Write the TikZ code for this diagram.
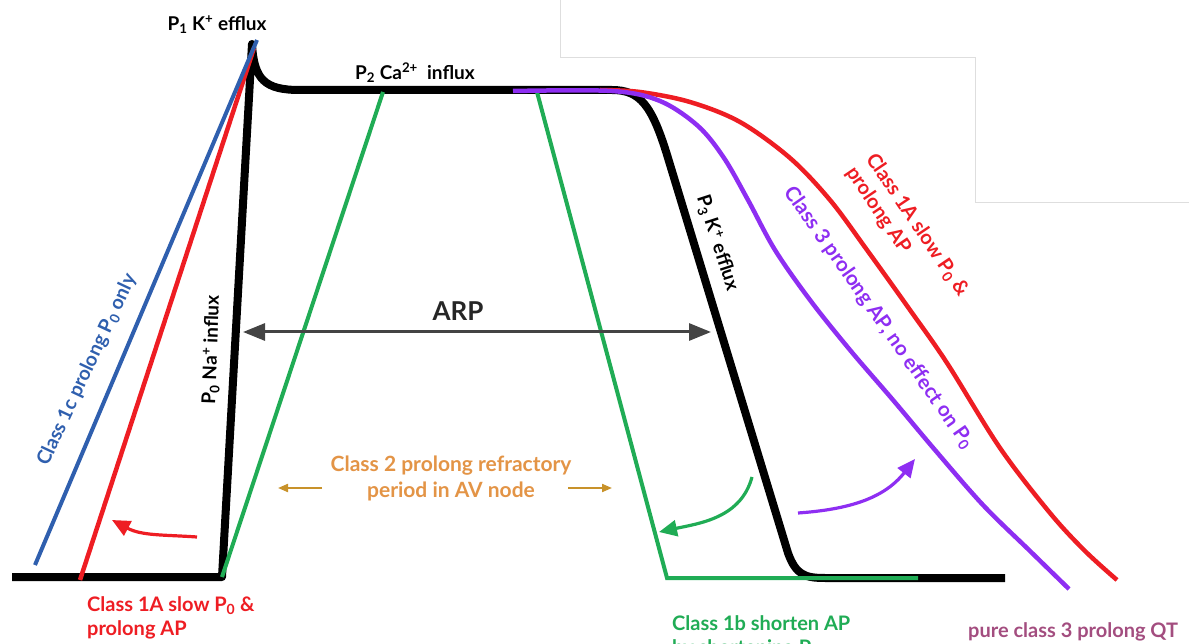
\documentclass[tikz,border=0pt]{standalone}
\usepackage{fontspec}
\setmainfont{Lato}
\usetikzlibrary{arrows.meta}
\definecolor{cred}{HTML}{EE1D23}
\definecolor{cblue}{HTML}{2F5FAE}
\definecolor{cgreen}{HTML}{20AC55}
\definecolor{cpurple}{HTML}{8E2EF2}
\definecolor{cplum}{HTML}{A34D7F}
\definecolor{corange}{HTML}{E39446}
\definecolor{cgold}{HTML}{C8922A}
\definecolor{carp}{HTML}{444444}
\newcommand{\lo}[1]{\textsubscript{#1}}
\newcommand{\hi}[1]{\textsuperscript{#1}}
\begin{document}
\begin{tikzpicture}[x=1pt,y=-1pt,
  blk/.style={font=\fontsize{19}{21}\selectfont\bfseries, text=black, inner sep=0pt},
  clab/.style={font=\fontsize{20}{24}\selectfont\bfseries, inner sep=0pt, align=left},
  apline/.style={line width=8pt, black, line join=round},
  drug/.style={line width=4.5pt},
  curarrow/.style={line width=3.2pt, -{Triangle[length=18pt,width=16pt]}},
]
\useasboundingbox (0,0) rectangle (1189,644);
% faint frame lines from the screenshot
\draw[black!13, line width=1pt] (560,0) -- (560,58) -- (975,58) -- (975,203) -- (1189,203);

% main action potential
\draw[apline] (12,577) -- (222,577) -- (252,44)
  .. controls (254,80) and (265,90) .. (300,90) -- (612,90)
  .. controls (640,90) and (652,105) .. (668,158) -- (788,553)
  .. controls (796,575) and (805,578) .. (825,578) -- (1005,578);

% class 1b (green)
\draw[cgreen, line width=4pt, line join=miter] (222,577) -- (383,92);
\draw[cgreen, line width=4pt, line join=miter] (537,92) -- (667,578) -- (918,578);

% class 1A right (red)
\draw[cred, drug] plot[smooth, tension=0.55] coordinates {(600,90) (640,92) (690,102) (740,122) (790,158) (830,200) (867,250) (910,310) (947,363) (1000,448) (1050,513) (1085,551) (1117,580)};
% class 3 (purple)
\draw[cpurple, drug] plot[smooth, tension=0.55] coordinates {(513,91) (612,91) (660,101) (698,126) (724,158) (748,200) (775,250) (810,300) (850,350) (893,400) (935,450) (983,505) (1030,551) (1069,589)};

% class 1A left (red) and 1c (blue)
\draw[cred, drug] (80,580) -- (254,48);
\draw[cblue, line width=4pt] (35,565) -- (257,40);

% ARP
\coordinate (arpL) at (243,332);
\coordinate (arpR) at (711,332);
\draw[carp, line width=3pt, {Triangle[length=22pt,width=17pt]}-{Triangle[length=22pt,width=17pt]}] (arpL) -- (arpR);
\node[font=\fontsize{26}{28}\selectfont\bfseries, text=black!85] (arp) at (458,311) {ARP};

% curved arrows
\coordinate (ra1) at (197,537); \coordinate (ra2) at (112,520);
\draw[cred, curarrow] (ra1) to[out=176,in=-28] (ra2);
\coordinate (ga1) at (752,477); \coordinate (ga2) at (659,532);
\draw[cgreen, curarrow] (ga1) to[out=-105,in=12] (ga2);
\coordinate (pa1) at (798,513); \coordinate (pa2) at (915,459);
\draw[cpurple, curarrow] (pa1) to[out=4,in=-128] (pa2);

% class 2
\node[clab, text=corange, align=center, font=\fontsize{21}{26}\selectfont\bfseries] (c2) at (451,478) {Class 2 prolong refractory\\period in AV node};
\coordinate (oaL1) at (322,488); \coordinate (oaL2) at (278,488);
\coordinate (oaR1) at (568,488); \coordinate (oaR2) at (612,488);
\draw[cgold, line width=2pt, -{Triangle[length=10pt,width=8pt]}] (oaL1) -- (oaL2);
\draw[cgold, line width=2pt, -{Triangle[length=10pt,width=8pt]}] (oaR1) -- (oaR2);

% black phase labels
\node[blk] (p1) at (217,25) {P\lo{1} K\hi{+} efflux};
\node[blk] (p2) at (415,73) {P\lo{2} Ca\hi{2+}\ \ influx};
\node[blk, rotate=-72] (p3) at (717,243) {P\lo{3} K\hi{+} efflux};
\node[blk, rotate=88] (p0) at (212,350) {P\lo{0} Na\hi{+} influx};

% coloured drug labels
\node[clab, text=cblue, rotate=65, font=\fontsize{19.5}{24}\selectfont\bfseries] (c1c) at (87,370) {Class 1c prolong P\lo{0} only};
\node[clab, text=cred, rotate=-56] (c1aR) at (907,232) {Class 1A slow P\lo{0} \&\\prolong AP};
\node[clab, text=cpurple, rotate=-55, font=\fontsize{20.5}{24}\selectfont\bfseries] (c3) at (879,318) {Class 3 prolong AP, no effect on P\lo{0}};
\node[clab, text=cred, anchor=north west] (c1aB) at (87,596) {Class 1A slow P\lo{0} \&\\prolong AP};
\node[clab, text=cgreen, anchor=north west] (c1b) at (672,615) {Class 1b shorten AP\\by shortening P\lo{3}};
\node[clab, text=cplum, anchor=base west] (pc3) at (968,637) {pure class 3 prolong QT};
\end{tikzpicture}
\end{document}
